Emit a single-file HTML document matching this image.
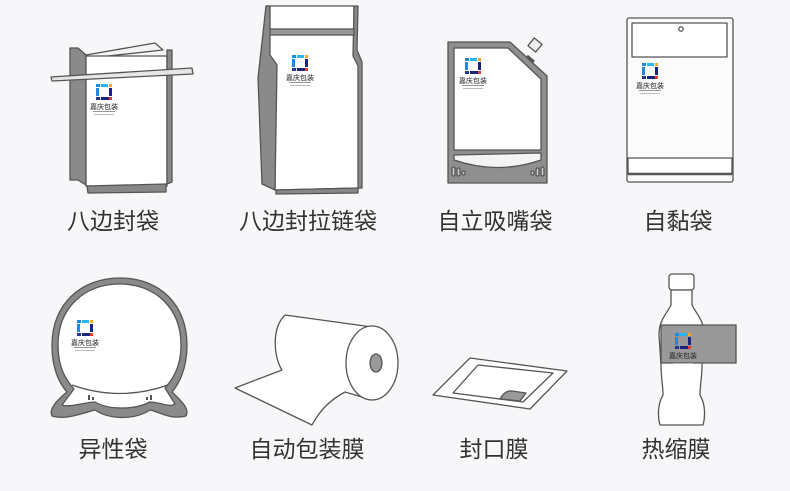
<!DOCTYPE html>
<html><head><meta charset="utf-8"><style>
html,body{margin:0;padding:0;background:#f7f7f9;}
svg{display:block}
text{font-family:"Liberation Sans","Noto Sans CJK SC",sans-serif;fill:#333;}
</style></head><body>
<svg width="790" height="491" viewBox="0 0 790 491" xmlns="http://www.w3.org/2000/svg">
<defs>
<g id="logo">
 <rect x="0" y="0" width="4" height="3" fill="#1e88e5"/><rect x="5" y="0" width="7" height="3" fill="#29b6f6"/><rect x="13" y="0" width="3" height="3" fill="#f5a623"/>
 <rect x="0" y="4" width="3" height="8" fill="#1e88e5"/><rect x="13" y="4" width="3" height="8" fill="#1a237e"/>
 <rect x="0" y="13" width="4" height="3" fill="#283593"/><rect x="5" y="13" width="8" height="3" fill="#1a237e"/><rect x="13" y="13" width="3" height="3" fill="#e53935"/>
 <text x="8" y="25" font-size="7" text-anchor="middle" style="fill:#222">嘉庆包装</text>
 <rect x="-3" y="27" width="22" height="1" fill="#999"/>
 <rect x="-2" y="30" width="20" height="1" fill="#bbb"/>
</g>
</defs>
<rect width="790" height="491" fill="#f7f7f9"/>
<g stroke="#555" stroke-width="1.3" fill="none" stroke-linejoin="round">
<!-- 1 -->
<path d="M70 48 L78 48 L86 55 L86 185 L78 180 L70 180 Z" fill="#8a8a8a"/>
<path d="M86 55 L155 43 L163 50 L90 58 Z" fill="#f4f4f4"/>
<rect x="86" y="56" width="81" height="130" fill="#fff"/>
<path d="M167 50 L172 50 L172 182 L167 184 Z" fill="#8a8a8a"/>
<path d="M87 186 L166 184 L166 192 L88 193 Z" fill="#888"/>
<path d="M51 77 L192 68 L193 74 L52 81 Z" fill="#e6e6e6"/>
<!-- 2 -->
<path d="M266 6 L354 6 L354 55 L360 65 L360 188 L275 190 L275 62 L266 52 Z" fill="#fff"/>
<path d="M266 6 L270 6 L270 55 L277 65 L275 190 L262 184 L258 78 Z" fill="#8a8a8a"/>
<path d="M354 6 L358 6 L357 50 L362 62 L362 188 L358 188 L358 66 L353 56 Z" fill="#8a8a8a"/>
<rect x="270" y="29" width="84" height="6" fill="#999"/>
<path d="M276 190 L358 188 L358 193 L276 194 Z" fill="#888"/>
<!-- 3 -->
<path d="M448 42 L510 42 L547 76 L547 183 L448 183 Z" fill="#8f8f8f"/>
<path d="M454 48 L508 48 L541 79 L541 150 L454 150 Z" fill="#fff"/>
<path d="M454 155 L541 153 L541 160 Q498 175 454 160 Z" fill="#f4f4f4"/>
<path d="M527 56 L534 62" stroke-width="3"/>
<rect x="530" y="40" width="10" height="10" transform="rotate(40 535 45)" fill="#eee"/>
<rect x="452" y="167" width="3" height="9" rx="1.5" fill="#ccc"/><rect x="457" y="168" width="3" height="8" rx="1.5" fill="#ccc"/><rect x="462" y="171" width="3" height="4" rx="1.5" fill="#ccc"/>
<rect x="541" y="167" width="3" height="9" rx="1.5" fill="#ccc"/><rect x="536" y="168" width="3" height="8" rx="1.5" fill="#ccc"/><rect x="531" y="171" width="3" height="4" rx="1.5" fill="#ccc"/>
<!-- 4 -->
<rect x="627" y="18" width="106" height="164" rx="2" fill="#fbfbfb"/>
<rect x="632" y="23" width="95" height="34" fill="#fff"/>
<circle cx="681" cy="29" r="2.2"/>
<rect x="628" y="158" width="104" height="16" fill="#fff"/>
<line x1="628" y1="174" x2="732" y2="174" stroke-width="2.5"/>
<!-- 5 -->
<path d="M120 278 C160 278 187 305 187 345 C187 370 178 385 172 392 C180 400 190 408 186 416 C170 420 160 412 150 410 C135 420 110 420 95 410 C80 414 65 420 52 416 C48 408 60 398 67 392 C60 384 52 370 52 345 C52 305 80 278 120 278 Z" fill="#8a8a8a"/>
<path d="M120 284 C155 284 181 308 181 345 C181 368 172 380 165 388 L175 404 C170 408 160 402 150 402 C135 410 108 410 95 402 C85 402 70 408 62 405 L74 389 C66 380 58 368 58 345 C58 308 84 284 120 284 Z" fill="#fff"/>
<path d="M72 385 Q120 402 168 385" fill="none"/>
<rect x="88" y="395" width="2" height="5" fill="#555" stroke="none"/><rect x="92" y="397" width="2" height="3" fill="#555" stroke="none"/>
<rect x="150" y="395" width="2" height="5" fill="#555" stroke="none"/><rect x="146" y="397" width="2" height="3" fill="#555" stroke="none"/>
<!-- 6 -->
<path d="M285 315 L375 327 L372 400 L300 390 Z" fill="#fff" stroke="none"/>
<path d="M285 315 L372 327"/>
<path d="M285 315 C270 330 275 360 282 370 L235 388 L312 425 C320 410 330 400 345 392 L372 400" fill="#fff"/>
<ellipse cx="372" cy="363" rx="26" ry="37" fill="#fff"/>
<ellipse cx="376" cy="363" rx="6" ry="9" fill="#999"/>
<!-- 7 -->
<path d="M433 395 L470 358 L567 371 L530 409 Z" fill="#fff"/>
<path d="M453 393 L478 365 L553 373 L523 402 Z" fill="#fff"/>
<path d="M500 399 Q505 390 512 391 L526 393 L520 401 Z" fill="#999"/>
<!-- 8 -->
<rect x="669" y="274" width="25" height="16" rx="3" fill="#fff"/>
<path d="M671 290 L671 305 C666 315 659 320 659 335 L661 365 C661 378 663 385 663 395 C657 405 658 418 660 425 L703 425 C705 418 706 405 700 395 C700 385 702 378 702 365 L704 335 C704 320 697 315 692 305 L692 290 Z" fill="#fff"/>
<rect x="661" y="325" width="75" height="38" fill="#999"/>
</g>
<use href="#logo" x="96" y="84"/>
<use href="#logo" x="292" y="55"/>
<use href="#logo" x="465" y="58"/>
<use href="#logo" x="642" y="63"/>
<use href="#logo" x="77" y="320"/>
<use href="#logo" x="675" y="333"/>
<g font-size="23" text-anchor="middle">
<text x="113" y="229">八边封袋</text>
<text x="308" y="229">八边封拉链袋</text>
<text x="495" y="229">自立吸嘴袋</text>
<text x="678" y="229">自黏袋</text>
<text x="113" y="457">异性袋</text>
<text x="307" y="457">自动包装膜</text>
<text x="494" y="457">封口膜</text>
<text x="676" y="457">热缩膜</text>
</g>
</svg>
</body></html>
